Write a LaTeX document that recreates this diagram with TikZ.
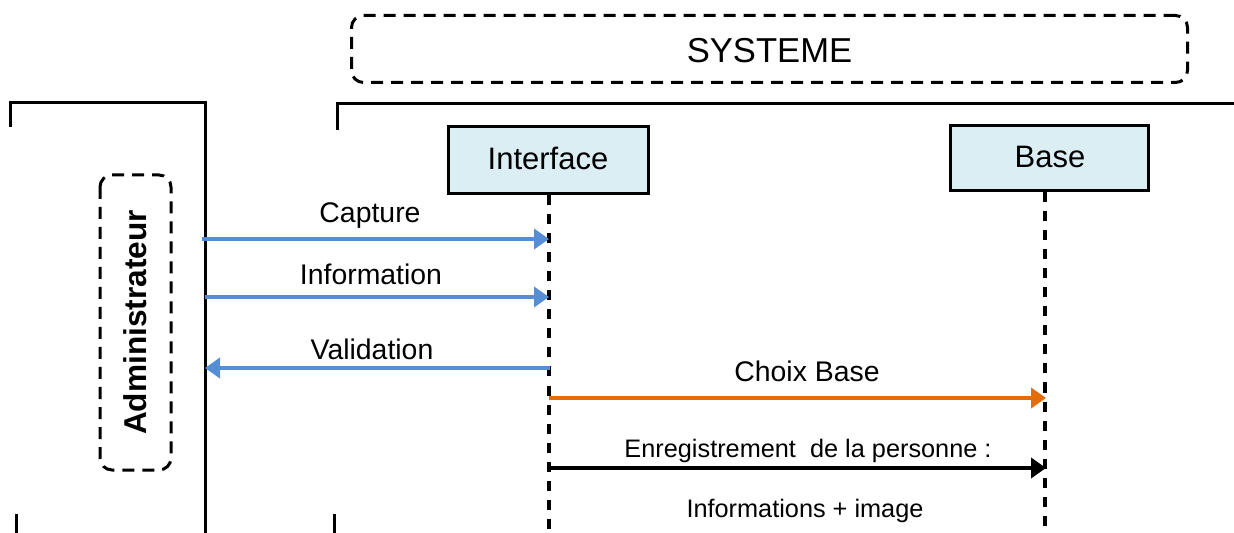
\documentclass[tikz,border=0pt]{standalone}
\usepackage{fontspec}
\setmainfont{Liberation Sans}
\usetikzlibrary{arrows.meta}
\definecolor{msgblue}{RGB}{85,142,213}
\definecolor{msgorange}{RGB}{228,108,10}
\definecolor{boxfill}{RGB}{219,238,244}
\tikzset{
  frameline/.style={line width=1.5pt, black},
  dashbox/.style={draw, line width=1.5pt, dash pattern=on 6pt off 4pt, rounded corners=6pt},
  objbox/.style={draw, line width=1.5pt, fill=boxfill, inner sep=0pt, font=\fontsize{15.5pt}{18pt}\selectfont},
  lifeline/.style={line width=2pt, dash pattern=on 5pt off 4.5pt},
  bluemsg/.style={line width=2pt, msgblue, -{Triangle[length=7.5pt,width=10pt]}},
  orangemsg/.style={line width=2pt, msgorange, -{Triangle[length=7.5pt,width=10pt]}},
  blackmsg/.style={line width=2pt, black, -{Triangle[length=7.5pt,width=10pt]}},
  lbl/.style={anchor=base, inner sep=0pt, font=\fontsize{14.2pt}{17pt}\selectfont},
  slbl/.style={anchor=base, inner sep=0pt, font=\fontsize{12.65pt}{15pt}\selectfont},
}
\begin{document}
\begin{tikzpicture}[x=0.5pt,y=-0.5pt]
\useasboundingbox (0,0) rectangle (1234,533);
% system box
\node[dashbox, minimum width=418pt, minimum height=33.5pt, inner sep=0pt] (sys) at (769.5,49) {};
\node[anchor=base, inner sep=0pt, font=\fontsize{17.3pt}{20pt}\selectfont] (systxt) at (769.5,63) {SYSTEME};
% frames
\draw[frameline] (10,127) -- (10,103) -- (205,103) -- (205,533);
\draw[frameline] (16,514) -- (16,533);
\draw[frameline] (337,130) -- (337,104) -- (1234,104);
\draw[frameline] (334,514) -- (334,533);
% actor
\node[dashbox, rotate=90, minimum width=147.5pt, minimum height=35.5pt, inner sep=0pt,
      font=\bfseries\fontsize{15.8pt}{18pt}\selectfont] (admin) at (135.5,322.5) {Administrateur};
% objects
\node[objbox, minimum width=100pt, minimum height=33.5pt] (int) at (548,160.5) {};
\node[anchor=base, inner sep=0pt, font=\fontsize{15.5pt}{18pt}\selectfont] (inttxt) at (548,170) {Interface};
\node[objbox, minimum width=99pt, minimum height=32.5pt] (base) at (1049,158.5) {};
\node[anchor=base, inner sep=0pt, font=\fontsize{15.5pt}{18pt}\selectfont] (basetxt) at (1050,168) {Base};
% lifelines
\coordinate (intend) at (549,533);
\coordinate (baseend) at (1045,533);
\draw[lifeline] (int.south -| intend) -- (intend);
\draw[lifeline] (base.south -| baseend) -- (baseend);
% message endpoints
\coordinate (a1) at (202,239); \coordinate (i1) at (549,239);
\coordinate (a2) at (205,297); \coordinate (i2) at (549,297);
\coordinate (a3) at (205,368); \coordinate (i3) at (550,368);
\coordinate (i4) at (549,398); \coordinate (b4) at (1046,398);
\coordinate (i5) at (549,468); \coordinate (b5) at (1046,468);
\draw[bluemsg] (a1) -- (i1);
\draw[bluemsg] (a2) -- (i2);
\draw[bluemsg] (i3) -- (a3);
\draw[orangemsg] (i4) -- (b4);
\draw[blackmsg] (i5) -- (b5);
% labels
\node[lbl] (l1) at (370,223) {Capture};
\node[lbl] (l2) at (371,285) {Information};
\node[lbl] (l3) at (372,359) {Validation};
\node[lbl] (l4) at (807,381) {Choix Base};
\node[slbl] (l5) at (808,457) {Enregistrement\ \ de la personne :};
\node[slbl] (l6) at (805,517) {Informations + image};
\end{tikzpicture}
\end{document}
